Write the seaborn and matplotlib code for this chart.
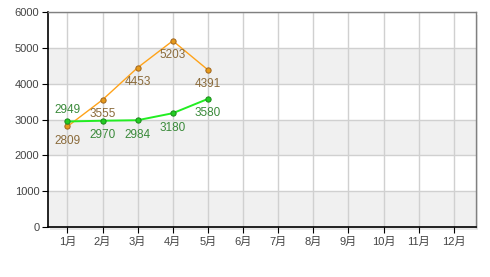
import matplotlib
matplotlib.use("Agg")
import matplotlib.pyplot as plt
import seaborn as sns
import pandas as pd
from matplotlib.patches import Rectangle

months = ["1月", "2月", "3月", "4月", "5月", "6月", "7月", "8月", "9月", "10月", "11月", "12月"]
orange_vals = [2809, 3555, 4453, 5203, 4391]
green_vals = [2949, 2970, 2984, 3180, 3580]
y_ticks = [0, 1000, 2000, 3000, 4000, 5000, 6000]

sns.set_theme(style="white")
plt.rcParams['font.family'] = ['Liberation Sans', 'Noto Sans CJK SC', 'DejaVu Sans']

fig = plt.figure(figsize=(4.9, 2.77), dpi=100)
ax = fig.add_axes([47.7/490, 50/277, (476-47.7)/490, (227-12.3)/277])
ax.set_zorder(2)

# shadow
shadow = Rectangle((50/490, 47.5/277), (476-47.7)/490, (227-12.3)/277,
                   transform=fig.transFigure, facecolor="#e8e8e8", edgecolor="none", zorder=-5)
fig.patches.append(shadow)

# alternating bands
for i in range(0, 6000, 2000):
    ax.axhspan(i, i + 1000, color="#f0f0f0", zorder=0, lw=0)

df_o = pd.DataFrame({"m": range(1, len(orange_vals) + 1), "v": orange_vals})
df_g = pd.DataFrame({"m": range(1, len(green_vals) + 1), "v": green_vals})

sns.lineplot(data=df_o, x="m", y="v", ax=ax, color="#ffa31a", lw=1.0, marker="o",
             markersize=3.8, markerfacecolor="#e69a1c", markeredgecolor="#a0651e",
             markeredgewidth=0.7, zorder=4)
sns.lineplot(data=df_g, x="m", y="v", ax=ax, color="#22ee22", lw=1.4, marker="o",
             markersize=3.8, markerfacecolor="#22cc22", markeredgecolor="#1a8a1a",
             markeredgewidth=0.7, zorder=5)

for i, v in enumerate(orange_vals):
    ax.annotate(str(v), (i + 1, v), xytext=(0, -10.5), textcoords="offset points",
                ha="center", va="center", fontsize=8.5, color="#8a6a3a", zorder=6)
for i, v in enumerate(green_vals):
    dy = 8.5 if i == 0 else -10.5
    ax.annotate(str(v), (i + 1, v), xytext=(0, dy), textcoords="offset points",
                ha="center", va="center", fontsize=8.5, color="#3a8a3a", zorder=6)

ax.set_xlim(0.44, 12.63)
ax.set_ylim(0, 6000)
ax.set_xticks(range(1, 13))
ax.set_xticklabels(months)
ax.set_yticks(y_ticks)
ax.set_yticklabels([str(t) for t in y_ticks])
ax.set_xlabel("")
ax.set_ylabel("")

ax.grid(True, color="#d0d0d0", lw=1.0, zorder=1)
ax.set_axisbelow(True)

for s in ["left", "bottom"]:
    ax.spines[s].set_color("black")
    ax.spines[s].set_linewidth(1.2)
for s in ["top", "right"]:
    ax.spines[s].set_color("#808080")
    ax.spines[s].set_linewidth(1.0)

ax.tick_params(axis="both", which="both", length=4, width=0.8, color="black",
               labelsize=8, labelcolor="#444444", direction="out",
               bottom=True, left=True)
ax.tick_params(axis="x", pad=3)
ax.tick_params(axis="y", pad=2)
ax.set_facecolor("white")

fig.savefig("out.png", dpi=100)
